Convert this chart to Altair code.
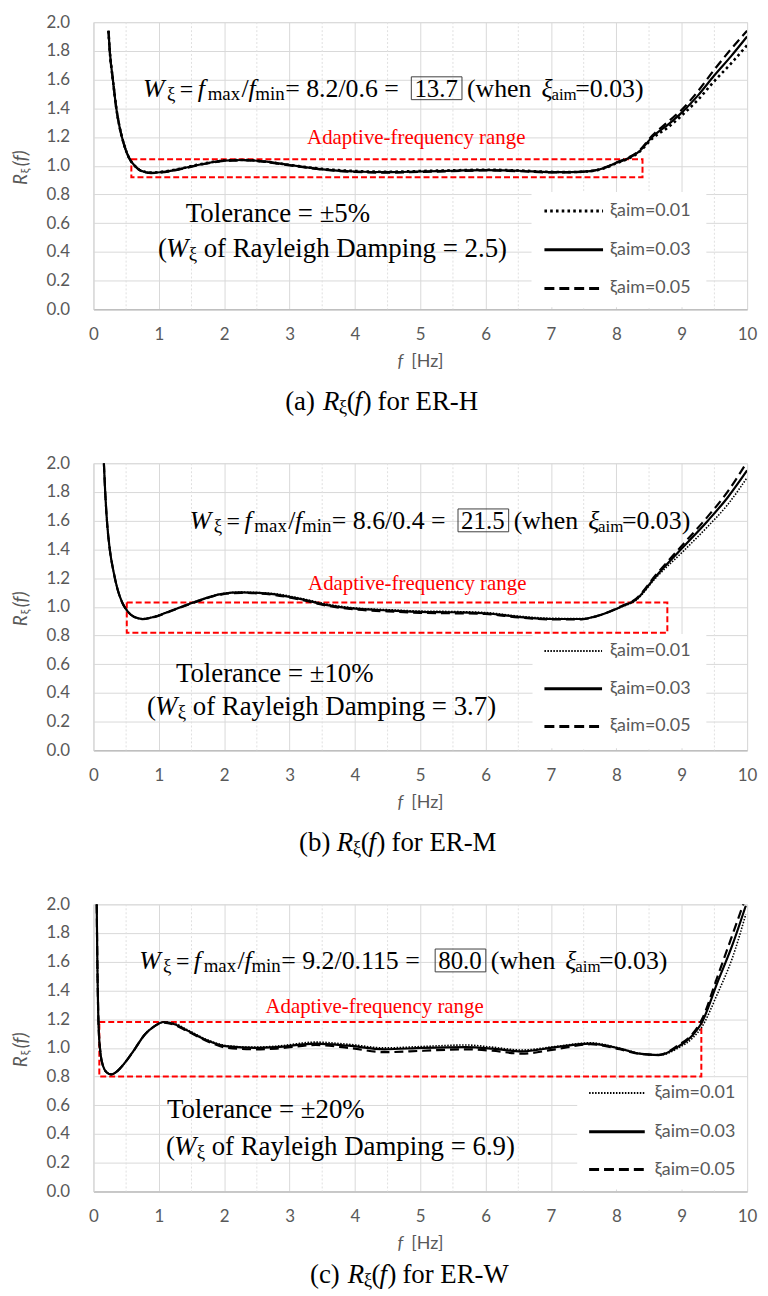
import altair as alt
import pandas as pd

# ---------------- data ----------------
# (a) ER-H
fa = [0.23, 0.25, 0.30, 0.35, 0.40, 0.48, 0.55, 0.63, 0.73, 0.88,
      1.03, 1.30, 1.65, 2.00, 2.30, 2.60, 3.00, 3.50, 4.00, 4.50,
      5.00, 5.50, 6.00, 6.50, 7.00, 7.30, 7.60, 7.85, 8.00, 8.15,
      8.35, 8.55, 8.80, 9.00, 9.25, 9.50, 9.75, 10.00]
ra_001 = [1.94, 1.80, 1.59, 1.40, 1.27, 1.13, 1.05, 1.00, 0.965, 0.952,
          0.957, 0.977, 1.012, 1.036, 1.040, 1.030, 1.006, 0.978, 0.963, 0.958,
          0.963, 0.968, 0.972, 0.967, 0.957, 0.956, 0.962, 0.988, 1.017, 1.042,
          1.095, 1.19, 1.27, 1.35, 1.46, 1.59, 1.71, 1.84]
ra_003 = [1.94, 1.80, 1.59, 1.40, 1.27, 1.13, 1.05, 1.00, 0.965, 0.950,
          0.955, 0.975, 1.010, 1.035, 1.040, 1.030, 1.005, 0.975, 0.960, 0.955,
          0.960, 0.965, 0.970, 0.965, 0.955, 0.955, 0.962, 0.990, 1.020, 1.045,
          1.10, 1.20, 1.29, 1.37, 1.49, 1.63, 1.76, 1.90]
ra_005 = [1.94, 1.80, 1.59, 1.40, 1.27, 1.13, 1.05, 1.00, 0.964, 0.949,
          0.953, 0.973, 1.008, 1.033, 1.038, 1.028, 1.003, 0.973, 0.957, 0.952,
          0.957, 0.962, 0.967, 0.962, 0.953, 0.954, 0.963, 0.992, 1.023, 1.050,
          1.105, 1.21, 1.31, 1.39, 1.52, 1.67, 1.81, 1.94]

# (b) ER-M
fb = [0.16, 0.18, 0.21, 0.25, 0.31, 0.37, 0.44, 0.52, 0.62, 0.75,
      0.93, 1.23, 1.53, 1.97, 2.26, 2.71, 3.16, 3.60, 4.05, 4.50,
      5.00, 5.50, 6.00, 6.50, 7.00, 7.47, 7.77, 8.07, 8.30, 8.60,
      9.03, 9.40, 9.70, 10.00]
rb_001 = [2.00, 1.80, 1.58, 1.40, 1.24, 1.12, 1.03, 0.97, 0.93, 0.917,
          0.932, 0.982, 1.032, 1.092, 1.102, 1.094, 1.060, 1.016, 0.990, 0.980,
          0.970, 0.967, 0.960, 0.935, 0.920, 0.918, 0.946, 0.998, 1.045, 1.20,
          1.39, 1.56, 1.71, 1.90]
rb_003 = [2.00, 1.80, 1.58, 1.40, 1.24, 1.12, 1.03, 0.97, 0.93, 0.915,
          0.93, 0.98, 1.03, 1.09, 1.10, 1.09, 1.055, 1.01, 0.985, 0.975,
          0.965, 0.962, 0.955, 0.93, 0.915, 0.915, 0.945, 1.00, 1.05, 1.21,
          1.42, 1.60, 1.76, 1.95]
rb_005 = [2.00, 1.80, 1.58, 1.40, 1.24, 1.12, 1.03, 0.97, 0.93, 0.914,
          0.928, 0.978, 1.028, 1.087, 1.097, 1.086, 1.050, 1.005, 0.980, 0.968,
          0.958, 0.955, 0.950, 0.926, 0.912, 0.913, 0.945, 1.003, 1.056, 1.22,
          1.44, 1.63, 1.80, 2.01]

# (c) ER-W
fc = [0.05, 0.06, 0.08, 0.11, 0.15, 0.20, 0.27, 0.37, 0.47, 0.63,
      0.78, 0.93, 1.08, 1.24, 1.44, 1.75, 2.05, 2.46, 2.80, 3.40,
      3.90, 4.45, 5.05, 5.70, 6.10, 6.55, 7.07, 7.60, 8.05, 8.35,
      8.65, 8.95, 9.17, 9.30, 9.55, 9.77, 9.98]
rc_001 = [2.00, 1.60, 1.14, 0.955, 0.87, 0.83, 0.815, 0.84, 0.89, 0.99,
          1.09, 1.15, 1.18, 1.17, 1.125, 1.055, 1.015, 1.005, 1.012, 1.04,
          1.025, 1.00, 1.01, 1.02, 1.005, 0.985, 1.01, 1.035, 0.998, 0.962,
          0.948, 1.00, 1.07, 1.14, 1.38, 1.62, 1.93]
rc_003 = [2.00, 1.60, 1.14, 0.955, 0.87, 0.83, 0.815, 0.84, 0.89, 0.99,
          1.09, 1.15, 1.18, 1.165, 1.12, 1.05, 1.01, 1.00, 1.005, 1.03,
          1.015, 0.99, 1.00, 1.005, 0.995, 0.975, 1.005, 1.03, 0.995, 0.96,
          0.95, 1.01, 1.09, 1.17, 1.46, 1.71, 1.99]
rc_005 = [2.00, 1.60, 1.14, 0.955, 0.87, 0.83, 0.815, 0.84, 0.89, 0.99,
          1.09, 1.15, 1.175, 1.16, 1.115, 1.045, 1.00, 0.99, 0.995, 1.02,
          1.00, 0.97, 0.98, 0.99, 0.98, 0.96, 0.99, 1.025, 0.99, 0.958,
          0.952, 1.02, 1.10, 1.19, 1.50, 1.78, 2.05]

x_ticks = [0, 1, 2, 3, 4, 5, 6, 7, 8, 9, 10]
y_ticks = [0.0, 0.2, 0.4, 0.6, 0.8, 1.0, 1.2, 1.4, 1.6, 1.8, 2.0]
minor_x = [0.5, 1.5, 2.5, 3.5, 4.5, 5.5, 6.5, 7.5, 8.5, 9.5]
series_labels = ["ξaim=0.01", "ξaim=0.03", "ξaim=0.05"]

# adaptive-frequency range boxes: [f_lo, f_hi, R_lo, R_hi]
range_a = [0.58, 8.40, 0.92, 1.045]
range_b = [0.51, 8.78, 0.82, 1.03]
range_c = [0.09, 9.30, 0.80, 1.18]

ratio_texts = ["= 8.2/0.6 =", "= 8.6/0.4 =", "= 9.2/0.115 ="]
w_values = ["13.7", "21.5", "80.0"]
tolerances = ["Tolerance = ±5%", "Tolerance = ±10%", "Tolerance = ±20%"]
rayleigh = ["of Rayleigh Damping = 2.5)", "of Rayleigh Damping = 3.7)",
            "of Rayleigh Damping = 6.9)"]
cap_letters = ["(a)", "(b)", "(c)"]
cap_names = ["for ER-H", "for ER-M", "for ER-W"]

# ---------------- style ----------------
SERIF = "Times New Roman, Liberation Serif, serif"
SANS = "Lato, Carlito, Calibri, sans-serif"
GRAY = "#595959"
W, H = 658, 289
ONE = pd.DataFrame({"k": [0]})


def txt(s, x, y, size=27, font=SERIF, style="normal", color="black",
        align="left", baseline="alphabetic", angle=None):
    kw = dict(text=s, fontSize=size, font=font, fontStyle=style, color=color,
              align=align, baseline=baseline)
    if angle is not None:
        kw["angle"] = angle
    return alt.Chart(ONE).mark_text(**kw).encode(x=alt.value(x), y=alt.value(y))


def prect(x1, x2, y1, y2, **kw):
    return alt.Chart(ONE).mark_rect(**kw).encode(
        x=alt.value(x1), x2=alt.value(x2), y=alt.value(y1), y2=alt.value(y2))


def prule(x1, x2, y, **kw):
    return alt.Chart(ONE).mark_rule(**kw).encode(
        x=alt.value(x1), x2=alt.value(x2), y=alt.value(y))


def xenc():
    return alt.X("f:Q", scale=alt.Scale(domain=[0, 10], nice=False, zero=False),
                 axis=alt.Axis(values=x_ticks, format="d", title=None, grid=True,
                               gridColor="#d9d9d9", ticks=False, tickSize=0,
                               labelPadding=17, labelFont=SANS, labelFontSize=17,
                               labelColor=GRAY, domainColor="#bfbfbf", domainWidth=1.5,
                               labelFlush=False, labelOverlap=False))


def yenc():
    return alt.Y("R:Q", scale=alt.Scale(domain=[0, 2], nice=False, zero=False),
                 axis=alt.Axis(values=y_ticks, format=".1f", title=None, grid=True,
                               gridColor="#d9d9d9", ticks=False, tickSize=0,
                               labelPadding=24, labelFont=SANS, labelFontSize=17,
                               labelColor=GRAY, domainColor="#d9d9d9",
                               labelFlush=False, labelOverlap=False))


def panel(i, f, r1, r3, r5, rng, P):
    X, Y = xenc(), yenc()
    L = []
    # minor dotted vertical gridlines
    L.append(alt.Chart(pd.DataFrame({"f": minor_x})).mark_rule(
        color="#e0e0e0", strokeDash=[2, 2], strokeWidth=1).encode(x=X))
    # legend background
    lx1, lx2, ly1, ly2 = P["legbox"]
    L.append(prect(lx1, lx2, ly1, ly2, fill="white"))
    # adaptive range box
    rdf = pd.DataFrame({"f": [rng[0]], "f2": [rng[1]], "R": [rng[2]], "R2": [rng[3]]})
    L.append(alt.Chart(rdf).mark_rect(filled=False, stroke="#ff0000", strokeWidth=2,
                                      strokeDash=[6, 3]).encode(
        x=X, x2="f2:Q", y=Y, y2="R2:Q"))
    # curves
    dot = P["dot"]
    L.append(alt.Chart(pd.DataFrame({"f": f, "R": r1})).mark_line(
        color="black", strokeWidth=dot[2], strokeDash=[dot[0], dot[1]], clip=True,
        interpolate="monotone").encode(x=X, y=Y))
    L.append(alt.Chart(pd.DataFrame({"f": f, "R": r5})).mark_line(
        color="black", strokeWidth=2.2, strokeDash=[9, 5], clip=True,
        interpolate="monotone").encode(x=X, y=Y))
    L.append(alt.Chart(pd.DataFrame({"f": f, "R": r3})).mark_line(
        color="black", strokeWidth=2.2, clip=True,
        interpolate="monotone").encode(x=X, y=Y))

    # legend entries
    sx1, sx2 = P["legsample"]
    lbx = P["leglabel"]
    ys = P["legy"]
    L.append(prule(sx1, sx2, ys[0], color="black", strokeWidth=dot[2] + 0.5,
                   strokeDash=[dot[0], dot[1]]))
    L.append(prule(sx1, sx2, ys[1], color="black", strokeWidth=3))
    L.append(prule(sx1, sx2, ys[2], color="black", strokeWidth=3, strokeDash=[10, 5]))
    for k in range(3):
        L.append(txt(series_labels[k], lbx, ys[k], size=18, font=SANS, color=GRAY,
                     baseline="middle"))

    # formula
    x0, yb, extra = P["fx"], P["fy"], P["extra"]
    S, s, d = 26, 19, 3
    L += [txt("W", x0, yb, S, style="italic"),
          txt("ξ", x0 + 24, yb + d, s),
          txt("=", x0 + 37, yb, 24),
          txt("f", x0 + 55, yb, S, style="italic"),
          txt("max", x0 + 65, yb + d, s),
          txt("/", x0 + 99, yb, S),
          txt("f", x0 + 106, yb, S, style="italic"),
          txt("min", x0 + 113, yb + d, s),
          txt(ratio_texts[i], x0 + 143, yb, S)]
    e = x0 + 143 + extra
    L += [prect(e + 127, e + 178, yb - 20, yb + 3, filled=False, stroke="#404040",
                strokeWidth=1),
          txt(w_values[i], e + 152, yb, 25, align="center"),
          txt("(when", e + 183, yb, S),
          txt("ξ", e + 258, yb, S, style="italic"),
          txt("aim", e + 268, yb + d, 17),
          txt("=0.03)", e + 292, yb, S)]
    # adaptive label
    ax, ay = P["adapt"]
    L.append(txt("Adaptive-frequency range", ax, ay, size=21, color="#ff0000",
                 align="center"))
    # tolerance lines
    tx, ty = P["tol"]
    L.append(txt(tolerances[i], tx, ty, 27))
    rx, ry = P["ray"]
    L += [txt("(", rx, ry, 27),
          txt("W", rx + 8, ry, 27, style="italic"),
          txt("ξ", rx + 31, ry + d, s),
          txt(rayleigh[i], rx + 46, ry, 27)]
    # axis titles
    L += [txt("f", 309, 342, size=18, font=SANS, style="italic", color=GRAY,
              align="center", baseline="middle"),
          txt("[Hz]", 320, 342, size=18, font=SANS, color=GRAY, baseline="middle"),
          txt("R", -73, 164, size=19, font=SANS, style="italic", color=GRAY,
              baseline="middle", angle=270),
          txt("ξ", -69, 152, size=12, font=SANS, color=GRAY, baseline="middle",
              angle=270),
          txt("(f)", -73, 145, size=19, font=SANS, style="italic", color=GRAY,
              baseline="middle", angle=270)]
    # caption
    cx, cy = P["cap"]
    L += [txt(cap_letters[i], cx, cy, 27),
          txt("R", cx + 38, cy, 27, style="italic"),
          txt("ξ", cx + 54, cy + d, s),
          txt("(", cx + 62, cy, 27),
          txt("f", cx + 70, cy, 27, style="italic"),
          txt(")", cx + 78, cy, 27),
          txt(cap_names[i], cx + 93, cy, 27)]
    return alt.layer(*L).properties(width=W, height=H)


PA = dict(legbox=(441, 617, 171, 287), legsample=(454, 513), leglabel=520,
          legy=(190, 229, 268), dot=(2.6, 3.2, 2.6), fx=50, fy=75, extra=0,
          adapt=(325, 123), tol=(93, 201), ray=(65, 236), cap=(193, 390))
PB = dict(legbox=(442, 617, 172, 287), legsample=(454, 512), leglabel=520,
          legy=(189, 227, 265), dot=(1.5, 1.5, 1.6), fx=97, fy=66, extra=0,
          adapt=(326, 128), tol=(83, 220), ray=(54, 253), cap=(207, 390))
PC = dict(legbox=(487, 658, 176, 287), legsample=(499, 555), leglabel=565,
          legy=(190, 229, 267), dot=(1.5, 1.5, 1.6), fx=46, fy=65, extra=28,
          adapt=(283, 109), tol=(74, 215), ray=(73, 252), cap=(218, 381))

pa = panel(0, fa, ra_001, ra_003, ra_005, range_a, PA)
pb = panel(1, fb, rb_001, rb_003, rb_005, range_b, PB)
pc = panel(2, fc, rc_001, rc_003, rc_005, range_c, PC)

chart = alt.vconcat(pa, pb, pc, spacing=155, bounds="flush",
                    padding={"left": 3, "top": 0, "right": 2, "bottom": 0}).configure_view(
    strokeWidth=0).configure(background="white")

chart.save("out.html", embed_options={"renderer": "svg", "actions": False})
